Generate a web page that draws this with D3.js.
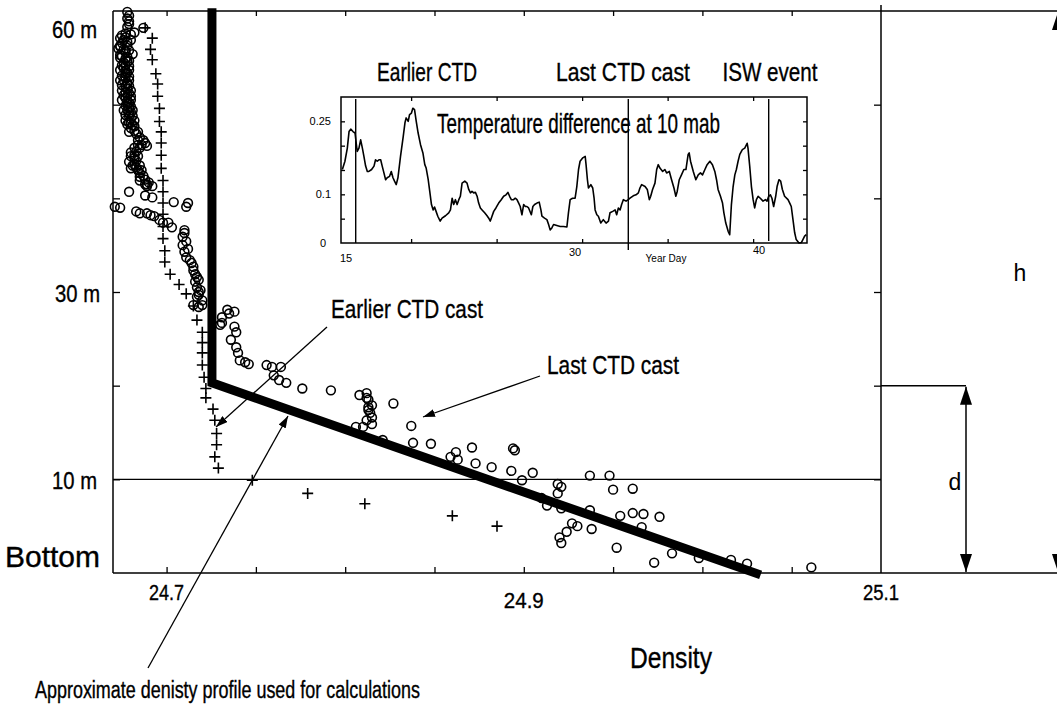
<!DOCTYPE html>
<html>
<head>
<meta charset="utf-8">
<script src="https://cdn.jsdelivr.net/npm/d3@7"></script>
<style>
  body { margin: 0; background: #fff; }
  svg { display: block; }
  text { font-family: "Liberation Sans Narrow", "Arial Narrow", "Liberation Sans", sans-serif; fill: #000; stroke: #000; stroke-width: 0.35; }
  .plain { font-family: "Liberation Sans", Arial, sans-serif; stroke: none; }
</style>
</head>
<body>
<div id="chart"></div>
<script>
// ---- data ----
// Earlier CTD cast: [density, metres above bottom]
const earlierCast = [
  [24.688, 58.2], [24.692, 57.1], [24.691, 55.9], [24.692, 54.8], [24.694, 53.3], [24.695, 52.2],
  [24.695, 50.9], [24.696, 49.6], [24.696, 48.2], [24.697, 47.1], [24.697, 45.9], [24.697, 44.6],
  [24.697, 43.2], [24.698, 41.9], [24.698, 40.7], [24.698, 39.5], [24.698, 38.3], [24.698, 37.0],
  [24.698, 35.7], [24.699, 34.4], [24.699, 33.2], [24.702, 31.9], [24.707, 30.8], [24.711, 29.8],
  [24.715, 28.5], [24.717, 27.0], [24.720, 25.7], [24.720, 24.6], [24.720, 23.5], [24.720, 22.2],
  [24.721, 20.9], [24.722, 19.7], [24.722, 18.7], [24.726, 17.5], [24.727, 16.3], [24.728, 14.9],
  [24.728, 13.7], [24.727, 12.4], [24.729, 11.2], [24.748, 9.9], [24.779, 8.5], [24.811, 7.4],
  [24.860, 6.1], [24.885, 5.0]
]

// Last CTD cast: [density, metres above bottom]
const lastCast = [
  [24.678, 59.9], [24.679, 59.5], [24.678, 59.2], [24.679, 58.9], [24.679, 58.6], [24.678, 58.3],
  [24.687, 58.2], [24.682, 57.7], [24.680, 57.5], [24.677, 57.2], [24.676, 56.9], [24.675, 56.6],
  [24.674, 56.2], [24.676, 55.9], [24.677, 55.6], [24.681, 55.4], [24.675, 55.2], [24.677, 54.9],
  [24.676, 54.5], [24.677, 54.2], [24.676, 53.9], [24.677, 53.6], [24.677, 53.3], [24.677, 52.9],
  [24.676, 52.6], [24.678, 52.3], [24.677, 52.0], [24.678, 51.7], [24.677, 51.3], [24.678, 51.0],
  [24.677, 50.7], [24.678, 50.4], [24.678, 50.1], [24.679, 49.7], [24.678, 49.4], [24.679, 49.1],
  [24.679, 48.8], [24.680, 48.5], [24.679, 48.1], [24.681, 47.8], [24.680, 47.5], [24.682, 47.2],
  [24.683, 46.9], [24.685, 46.5], [24.687, 46.2], [24.688, 45.9], [24.689, 45.6], [24.685, 45.4],
  [24.683, 45.0], [24.682, 44.6], [24.682, 44.3], [24.683, 44.0], [24.682, 43.6], [24.683, 43.3],
  [24.684, 43.0], [24.685, 42.7], [24.687, 42.4], [24.688, 42.0], [24.690, 41.7], [24.692, 41.3],
  [24.689, 41.3], [24.680, 56.9], [24.679, 55.8], [24.679, 54.7], [24.679, 53.7], [24.679, 52.6],
  [24.680, 51.5], [24.680, 50.5], [24.681, 49.4], [24.682, 48.3],
  [24.675, 57.4], [24.674, 56.3], [24.678, 56.3], [24.674, 55.3], [24.678, 55.1], [24.675, 54.2],
  [24.679, 54.1], [24.675, 53.1], [24.679, 53.0], [24.675, 52.1], [24.679, 52.0], [24.676, 51.0],
  [24.680, 50.9], [24.677, 49.9], [24.680, 49.8], [24.677, 48.9], [24.681, 48.8], [24.678, 47.9],
  [24.682, 47.7], [24.684, 46.2], [24.684, 45.7], [24.680, 44.9], [24.684, 44.5], [24.679, 43.9],
  [24.685, 43.5], [24.680, 43.2], [24.686, 43.0], [24.688, 41.5], [24.685, 41.9],
  [24.677, 57.6], [24.674, 57.1], [24.678, 56.7], [24.673, 56.0], [24.677, 55.8], [24.674, 55.0],
  [24.678, 54.6], [24.674, 53.7], [24.678, 53.4], [24.674, 52.6], [24.678, 52.2], [24.675, 51.5],
  [24.679, 51.2], [24.675, 50.5], [24.679, 50.2], [24.676, 49.4], [24.680, 49.2], [24.677, 48.3],
  [24.680, 48.1], [24.679, 47.1], [24.684, 47.1], [24.686, 45.7], [24.682, 45.4], [24.680, 44.5],
  [24.681, 43.5], [24.685, 42.3], [24.689, 41.5],
  [24.679, 40.7], [24.688, 40.3], [24.692, 40.1], [24.704, 39.6], [24.712, 39.5], [24.711, 39.1],
  [24.671, 39.1], [24.674, 39.0], [24.683, 38.6], [24.685, 38.4], [24.689, 38.4], [24.691, 38.2],
  [24.693, 38.1], [24.696, 37.7], [24.698, 37.4], [24.701, 37.4], [24.703, 36.9], [24.710, 36.6],
  [24.709, 35.9], [24.709, 35.0], [24.710, 34.3], [24.711, 33.7], [24.714, 33.1], [24.715, 32.3],
  [24.717, 31.6], [24.716, 31.1], [24.717, 30.5], [24.718, 30.0], [24.717, 29.5], [24.720, 29.1],
  [24.715, 28.6], [24.718, 28.4], [24.720, 28.6], [24.710, 36.3], [24.711, 35.4], [24.712, 34.6],
  [24.713, 33.4], [24.715, 32.7], [24.716, 31.9], [24.718, 31.3], [24.719, 30.2], [24.718, 29.7],
  [24.734, 28.1], [24.738, 27.9], [24.735, 27.7], [24.731, 27.3], [24.731, 26.7], [24.730, 26.5],
  [24.738, 26.3], [24.739, 25.7], [24.736, 24.9], [24.739, 24.1], [24.740, 23.5], [24.741, 22.7],
  [24.744, 22.5], [24.746, 22.3], [24.756, 22.2], [24.759, 22.0], [24.764, 22.0], [24.760, 21.1],
  [24.763, 20.6], [24.767, 20.3], [24.776, 19.7], [24.792, 19.5], [24.808, 19.0], [24.812, 19.2],
  [24.812, 18.7], [24.813, 18.5], [24.815, 17.9], [24.813, 17.7], [24.813, 17.4], [24.814, 17.1],
  [24.815, 16.6], [24.812, 16.3], [24.815, 15.9], [24.810, 15.6], [24.806, 15.6], [24.827, 18.1],
  [24.837, 15.7], [24.838, 13.9], [24.848, 13.8], [24.821, 14.2], [24.859, 12.4], [24.862, 12.9],
  [24.863, 12.1], [24.871, 13.4], [24.873, 11.7], [24.882, 11.3], [24.893, 10.9], [24.894, 13.3],
  [24.895, 13.1], [24.899, 9.9], [24.905, 10.7], [24.910, 8.0], [24.913, 7.2], [24.919, 9.5],
  [24.921, 9.2], [24.919, 8.5], [24.921, 6.9], [24.927, 5.3], [24.930, 5.0], [24.924, 4.4],
  [24.920, 3.8], [24.921, 3.2], [24.937, 10.4], [24.937, 6.7], [24.938, 4.7], [24.948, 10.4],
  [24.950, 8.9], [24.961, 9.0], [24.954, 6.1], [24.961, 6.4], [24.967, 6.3], [24.976, 6.0],
  [24.966, 4.9], [24.952, 2.7], [24.983, 2.1], [24.973, 1.1], [24.998, 1.6], [25.016, 1.4],
  [25.025, 1.0], [25.061, 0.6]
]

// approximate density profile (thick line)
const profile = [[24.7254, 60.3], [24.7254, 20.3], [25.0326, -0.2]]

const xTickValues = [24.7, 24.9, 25.1]
const xTickLabels = ['24.7', '24.9', '25.1']
const yTickValues = [60, 30, 10, 0]
const yTickLabels = ['60 m', '30 m', '10 m', 'Bottom']

// inset: temperature difference at 10 mab vs year day
const tempDiff = [
  [15.98, 0.151], [16.13, 0.168], [16.27, 0.195], [16.37, 0.229], [16.47, 0.234], [16.60, 0.229],
  [16.72, 0.226], [16.80, 0.202], [16.85, 0.188], [16.95, 0.195], [17.05, 0.212], [17.15, 0.195],
  [17.24, 0.178], [17.34, 0.158], [17.44, 0.147], [17.53, 0.147], [17.69, 0.151], [17.83, 0.158],
  [17.92, 0.171], [18.02, 0.168], [18.12, 0.171], [18.22, 0.171], [18.31, 0.158], [18.41, 0.144],
  [18.51, 0.130], [18.60, 0.134], [18.74, 0.137], [18.84, 0.147], [18.94, 0.134], [19.03, 0.127],
  [19.13, 0.120], [19.23, 0.134], [19.38, 0.178], [19.54, 0.219], [19.64, 0.247], [19.71, 0.257],
  [19.83, 0.250], [19.91, 0.264], [20.02, 0.267], [20.10, 0.277], [20.20, 0.274], [20.30, 0.250],
  [20.41, 0.226], [20.55, 0.202], [20.69, 0.185], [20.80, 0.161], [20.88, 0.154], [21.00, 0.130],
  [21.09, 0.106], [21.19, 0.079], [21.29, 0.068], [21.37, 0.074], [21.46, 0.065], [21.56, 0.055],
  [21.70, 0.045], [21.81, 0.051], [22.01, 0.056], [22.20, 0.062], [22.30, 0.068], [22.40, 0.092],
  [22.49, 0.079], [22.59, 0.089], [22.69, 0.079], [22.79, 0.089], [22.88, 0.096], [22.98, 0.123],
  [23.14, 0.127], [23.27, 0.123], [23.37, 0.110], [23.47, 0.103], [23.56, 0.106], [23.66, 0.103],
  [23.76, 0.104], [23.86, 0.096], [23.95, 0.082], [24.05, 0.072], [24.15, 0.068], [24.30, 0.062],
  [24.44, 0.056], [24.54, 0.051], [24.63, 0.045], [24.73, 0.055], [24.83, 0.065], [24.96, 0.072],
  [25.12, 0.082], [25.27, 0.089], [25.41, 0.096], [25.55, 0.099], [25.66, 0.104], [25.76, 0.096],
  [25.86, 0.089], [25.99, 0.089], [26.09, 0.092], [26.19, 0.089], [26.29, 0.082], [26.38, 0.075],
  [26.48, 0.058], [26.58, 0.079], [26.68, 0.075], [26.77, 0.075], [26.87, 0.072], [27.03, 0.058],
  [27.12, 0.075], [27.22, 0.079], [27.36, 0.082], [27.49, 0.084], [27.59, 0.068], [27.65, 0.055],
  [27.80, 0.051], [27.94, 0.048], [28.04, 0.038], [28.13, 0.027], [28.23, 0.031], [28.33, 0.038],
  [28.52, 0.036], [28.72, 0.034], [28.91, 0.034], [29.11, 0.033], [29.20, 0.062], [29.30, 0.089],
  [29.44, 0.092], [29.59, 0.092], [29.69, 0.116], [29.79, 0.151], [29.88, 0.168], [30.04, 0.175],
  [30.18, 0.178], [30.23, 0.161], [30.31, 0.130], [30.37, 0.113], [30.51, 0.120], [30.62, 0.113],
  [30.70, 0.092], [30.76, 0.068], [30.86, 0.058], [30.95, 0.055], [31.09, 0.041], [31.24, 0.048],
  [31.40, 0.041], [31.54, 0.045], [31.63, 0.062], [31.79, 0.065], [31.93, 0.068], [32.02, 0.058],
  [32.12, 0.072], [32.22, 0.068], [32.31, 0.079], [32.41, 0.089], [32.57, 0.086], [32.70, 0.089],
  [32.80, 0.092], [32.99, 0.097], [33.15, 0.099], [33.29, 0.103], [33.38, 0.113], [33.48, 0.120],
  [33.68, 0.116], [33.81, 0.110], [33.93, 0.089], [34.01, 0.096], [34.12, 0.110], [34.26, 0.123],
  [34.36, 0.151], [34.45, 0.161], [34.55, 0.154], [34.71, 0.147], [34.84, 0.151], [34.94, 0.144],
  [35.10, 0.147], [35.23, 0.130], [35.37, 0.113], [35.48, 0.096], [35.56, 0.106], [35.68, 0.130],
  [35.81, 0.140], [35.95, 0.151], [36.07, 0.151], [36.20, 0.182], [36.26, 0.185], [36.34, 0.168],
  [36.50, 0.147], [36.65, 0.130], [36.79, 0.140], [36.92, 0.144], [37.04, 0.140], [37.18, 0.151],
  [37.31, 0.161], [37.47, 0.168], [37.62, 0.161], [37.76, 0.147], [37.86, 0.130], [37.95, 0.110],
  [38.09, 0.096], [38.21, 0.082], [38.29, 0.062], [38.40, 0.041], [38.54, 0.024], [38.63, 0.017],
  [38.73, 0.079], [38.83, 0.116], [38.93, 0.140], [39.02, 0.151], [39.12, 0.168], [39.22, 0.182],
  [39.37, 0.192], [39.51, 0.195], [39.65, 0.205], [39.70, 0.195], [39.80, 0.158], [39.90, 0.116],
  [40.00, 0.089], [40.09, 0.072], [40.19, 0.089], [40.29, 0.096], [40.42, 0.092], [40.58, 0.086],
  [40.72, 0.089], [40.81, 0.086], [40.91, 0.096], [41.01, 0.099], [41.10, 0.092], [41.20, 0.075],
  [41.32, 0.096], [41.40, 0.116], [41.51, 0.130], [41.61, 0.127], [41.71, 0.110], [41.84, 0.096],
  [42.04, 0.089], [42.14, 0.082], [42.23, 0.075], [42.33, 0.048], [42.43, 0.021], [42.52, 0.007],
  [42.68, 0.000], [42.82, 0.001], [42.91, 0.007], [43.01, 0.014], [43.11, 0.017]
]
const eventDays = [16.76, 32.70, 40.91]
const eventLabels = ['Earlier CTD', 'Last CTD cast', 'ISW event']
const insetYTicks = [0, 0.1, 0.25]
const insetYLabels = ['0', '0.1', '0.25']
const insetXTicks = [15.9, 30, 40]
const insetXLabels = ['15', '30', '40']

// ---- layout ----
const W = 1057, H = 707
const svg = d3.select('#chart').append('svg').attr('width', W).attr('height', H)

const x = d3.scaleLinear().domain([24.67, 25.1]).range([113, 881])
const y = d3.scaleLinear().domain([0, 60]).range([573, 11])

// 文字: 用 textLength 把窄体字压到图上的宽度
function label(txt, px, py, size, width, anchor, cls) {
  const t = svg.append('text')
    .attr('x', px).attr('y', py)
    .attr('font-size', size)
    .attr('text-anchor', anchor || 'start')
    .text(txt)
  if (width) t.attr('textLength', width).attr('lengthAdjust', 'spacingAndGlyphs')
  if (cls) t.attr('class', cls)
  return t
}

const defs = svg.append('defs')
defs.append('marker').attr('id', 'arrow')
  .attr('viewBox', '0 0 12 8').attr('refX', 12).attr('refY', 4)
  .attr('markerWidth', 12).attr('markerHeight', 8)
  .attr('markerUnits', 'userSpaceOnUse').attr('orient', 'auto')
  .append('path').attr('d', 'M0,0L12,4L0,8Z').attr('fill', '#000')
defs.append('marker').attr('id', 'bigArrow')
  .attr('viewBox', '0 0 18 12').attr('refX', 18).attr('refY', 6)
  .attr('markerWidth', 18).attr('markerHeight', 12)
  .attr('markerUnits', 'userSpaceOnUse').attr('orient', 'auto-start-reverse')
  .append('path').attr('d', 'M0,0L18,6L0,12Z').attr('fill', '#000')

function line(x1, y1, x2, y2, w) {
  return svg.append('line')
    .attr('x1', x1).attr('y1', y1).attr('x2', x2).attr('y2', y2)
    .attr('stroke', '#000').attr('stroke-width', w || 1.5)
}

// 主图边框
line(x.range()[0], y(60), x.range()[0], y(0))
line(x.range()[0], y(60), W, y(60))
line(x.range()[1], 5, x.range()[1], y(0))
line(x.range()[0], y(0), W, y(0))
// 10 m 水平线
line(x.range()[0], y(10), x.range()[1], y(10), 1.3)

// 刻度 (向内)
const minor = d3.range(0, 8).map(i => 24.7 + i * 0.05)
const tickStyle = g => {
  g.select('.domain').remove()
  g.selectAll('line').attr('stroke-width', 1.3)
}
svg.append('g').attr('transform', `translate(0,${y(0)})`)
  .call(d3.axisBottom(x).tickValues(minor).tickSize(-6).tickFormat('')).call(tickStyle)
svg.append('g').attr('transform', `translate(0,${y(60)})`)
  .call(d3.axisTop(x).tickValues(minor).tickSize(-5).tickFormat('')).call(tickStyle)
svg.append('g').attr('transform', `translate(${x.range()[0]},0)`)
  .call(d3.axisLeft(y).tickValues([10, 20, 30, 40, 50]).tickSize(-7).tickFormat('')).call(tickStyle)
svg.append('g').attr('transform', `translate(${x.range()[1]},0)`)
  .call(d3.axisRight(y).tickValues([10, 20, 30, 40, 50]).tickSize(-7).tickFormat('')).call(tickStyle)

// 轴标签
const xLabelDy = [27, 35, 27]
const xLabelW = [35, 40, 36]
xTickValues.forEach((v, i) => label(xTickLabels[i], x(v), y(0) + xLabelDy[i], 22, xLabelW[i], 'middle'))
// [x, baseline, size, width] for each depth label
const yLabelPos = [[97, 38, 24, 45], [100, 302, 24, 45], [97, 489, 24, 45], [5, 567, 29, 95]]
yTickValues.forEach((v, i) => {
  const p = yLabelPos[i]
  label(yTickLabels[i], p[0], p[1], p[2], p[3], i === 3 ? 'start' : 'end')
})
label('Density', 671, 668, 29, 82, 'middle')

// 散点: 圆 = last cast, 十字 = earlier cast
svg.append('g').selectAll('circle').data(lastCast).enter().append('circle')
  .attr('cx', d => x(d[0])).attr('cy', d => y(d[1])).attr('r', 4.4)
  .attr('fill', 'none').attr('stroke', '#000').attr('stroke-width', 1.6)

svg.append('g').selectAll('path').data(earlierCast).enter().append('path')
  .attr('transform', d => `translate(${x(d[0])},${y(d[1])})`)
  .attr('d', 'M-5.5,0H5.5M0,-5.5V5.5')
  .attr('stroke', '#000').attr('stroke-width', 1.6)

// 粗线: 计算用的近似密度剖面
svg.append('path').datum(profile)
  .attr('d', d3.line().x(d => x(d[0])).y(d => y(d[1])))
  .attr('fill', 'none').attr('stroke', '#000')
  .attr('stroke-width', 9).attr('stroke-linejoin', 'miter')

// 箭头注释
line(327, 327, 216, 427, 1.3).attr('marker-end', 'url(#arrow)')
label('Earlier CTD cast', 331, 318, 26, 152)
line(540, 376, 423, 417, 1.3).attr('marker-end', 'url(#arrow)')
label('Last CTD cast', 547, 374, 26, 132)
line(148, 668, 288, 416, 1.3).attr('marker-end', 'url(#arrow)')
label('Approximate denisty profile used for calculations', 35, 698, 23, 385)

// 右侧 d / h 标注
line(x.range()[1], y(20), 966, y(20))
line(966, y(20) + 1, 966, y(0) - 1, 1.5)
  .attr('marker-start', 'url(#bigArrow)').attr('marker-end', 'url(#bigArrow)')
label('d', 955, 490, 23, null, 'middle', 'plain')
line(1058, y(60) + 1, 1058, y(0) - 1, 1.5)
  .attr('marker-start', 'url(#bigArrow)').attr('marker-end', 'url(#bigArrow)')
label('h', 1020, 281, 23, null, 'middle', 'plain')

// ---- 插图: 10 mab 温差 ----
const ix = d3.scaleLinear().domain([15.9, 43.15]).range([341, 807])
const iy = d3.scaleLinear().domain([0, 0.3]).range([243, 97])

svg.append('rect')
  .attr('x', ix.range()[0]).attr('y', iy.range()[1])
  .attr('width', ix.range()[1] - ix.range()[0]).attr('height', iy.range()[0] - iy.range()[1])
  .attr('fill', '#fff').attr('stroke', '#000').attr('stroke-width', 1.5)

const iyMinor = d3.range(1, 6).map(i => i * 0.05)
const ixMinor = [20, 25, 30, 35, 40]
svg.append('g').attr('transform', `translate(${ix.range()[0]},0)`)
  .call(d3.axisLeft(iy).tickValues(iyMinor).tickSize(-4).tickFormat('')).call(tickStyle)
svg.append('g').attr('transform', `translate(${ix.range()[1]},0)`)
  .call(d3.axisRight(iy).tickValues(iyMinor).tickSize(-4).tickFormat('')).call(tickStyle)
svg.append('g').attr('transform', `translate(0,${iy.range()[0]})`)
  .call(d3.axisBottom(ix).tickValues(ixMinor).tickSize(-4).tickFormat('')).call(tickStyle)
svg.append('g').attr('transform', `translate(0,${iy.range()[1]})`)
  .call(d3.axisTop(ix).tickValues(ixMinor).tickSize(-4).tickFormat('')).call(tickStyle)

svg.append('path').datum(tempDiff)
  .attr('d', d3.line().x(d => ix(d[0])).y(d => iy(d[1])))
  .attr('fill', 'none').attr('stroke', '#000').attr('stroke-width', 1.6)
  .attr('stroke-linejoin', 'round')

// 事件竖线
const eventBottom = [iy(0), iy(0) + 7, iy(0) - 2]
eventDays.forEach((d, i) => line(ix(d), iy(0.3) + 2, ix(d), eventBottom[i], 1.4))
const eventLabelX = [427, 623, 770]
const eventLabelW = [100, 134, 95]
eventLabels.forEach((t, i) => label(t, eventLabelX[i], 81, 25, eventLabelW[i], 'middle'))
label('Temperature difference at 10 mab', 437, 133, 28, 283)

// 插图刻度文字
insetYTicks.forEach((v, i) => label(insetYLabels[i], i === 0 ? 326 : 331, iy(v) + 4, 11, null, 'end', 'plain'))
const insetXDx = [5, -7, 6]
const insetXDy = [19, 13, 11]
insetXTicks.forEach((v, i) => label(insetXLabels[i], ix(v) + insetXDx[i], iy(0) + insetXDy[i], 11, null, 'middle', 'plain'))
label('Year Day', 666, 262, 10, null, 'middle', 'plain')
</script>
</body>
</html>
